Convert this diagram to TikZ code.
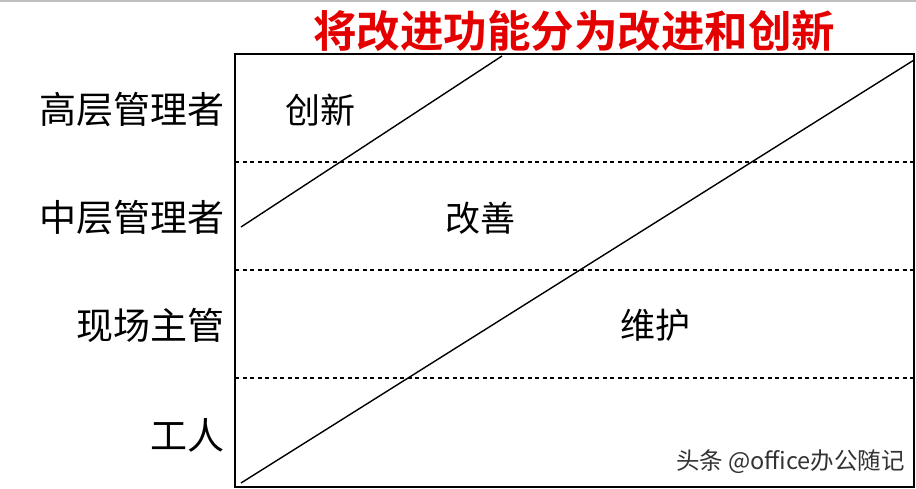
\documentclass[tikz,border=0pt]{standalone}
\usepackage{fontspec}
\newfontfamily\cjk{Noto Sans CJK SC}
\newfontfamily\cjkb{Noto Sans CJK SC Bold}
\begin{document}
\begin{tikzpicture}[x=1pt,y=-1pt,
  rowlabel/.style={anchor=east,inner sep=0pt,font=\cjk\fontsize{37}{37}\selectfont},
  cell/.style={inner sep=0pt,font=\cjk\fontsize{35}{35}\selectfont},
  sep/.style={line width=1.8pt,dash pattern=on 4pt off 3.5pt},
  diag/.style={line width=1.4pt}]
\useasboundingbox (0,0) rectangle (916,488);
\fill[white] (0,0) rectangle (916,488);
\draw[gray!50,line width=1.5pt] (0,0.75) -- (916,0.75);
% title
\node[inner sep=0pt,text=red!90!black,font=\cjkb\fontsize{43.5}{43.5}\selectfont] (title) at (574,31) {将改进功能分为改进和创新};
% frame
\coordinate (tl) at (235,54);
\coordinate (br) at (914,487);
\draw[line width=2pt] (tl) rectangle (br);
% dashed separators
\draw[sep] (235,162) -- (914,162);
\draw[sep] (235,270) -- (914,270);
\draw[sep] (235,378) -- (914,378);
% diagonals
\draw[diag] (241,227) -- (502,56);
\draw[diag] (241,483) -- (914,60);
% row labels
\node[rowlabel] (r1) at (225,110) {高层管理者};
\node[rowlabel] (r2) at (225,218) {中层管理者};
\node[rowlabel] (r3) at (225,325) {现场主管};
\node[rowlabel] (r4) at (225,435) {工人};
% cell labels
\node[cell] (c1) at (320,110) {创新};
\node[cell] (c2) at (480,218) {改善};
\node[cell] (c3) at (655,325) {维护};
% watermark
\node[inner sep=0pt,anchor=east,text=black!80,font=\cjk\fontsize{23.5}{23.5}\selectfont] (wm) at (905,462) {头条 @office办公随记};
\end{tikzpicture}
\end{document}
